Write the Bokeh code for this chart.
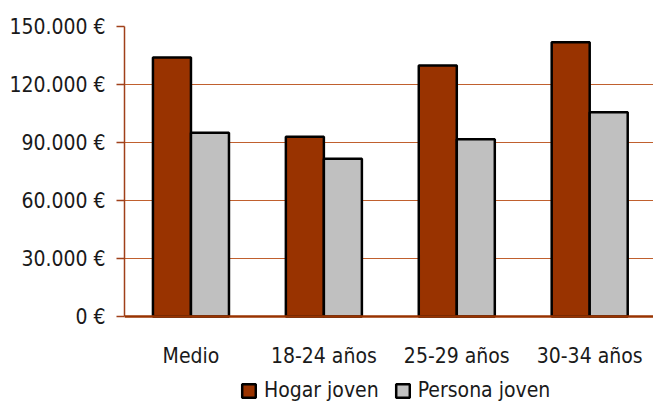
from bokeh.plotting import figure
from bokeh.models import (Range1d, FixedTicker, Legend, LegendItem, ColumnDataSource,
                          LabelSet, Span)
from bokeh.core.properties import value
from bokeh.embed import file_html
from bokeh.resources import INLINE

categories = ["Medio", "18-24 años", "25-29 años", "30-34 años"]
hogar_joven = [134000, 93000, 129800, 141900]
persona_joven = [95000, 81600, 91700, 105700]
y_ticks = [0, 30000, 60000, 90000, 120000, 150000]
y_tick_labels = ["0 €", "30.000 €", "60.000 €", "90.000 €", "120.000 €", "150.000 €"]

FONT = "DejaVu Sans Condensed"
FS = "21px"
TXT = "#1a1a1a"
BAR_W = 0.286
idx = [i + 0.5 for i in range(len(categories))]

src = ColumnDataSource(dict(
    xh=[c - BAR_W / 2 for c in idx],
    xp=[c + BAR_W / 2 for c in idx],
    h=hogar_joven,
    pj=persona_joven,
))
cat_src = ColumnDataSource(dict(x=idx, y=[0] * len(idx), text=categories))

p = figure(width=653, height=403, output_backend="svg", toolbar_location=None,
           x_range=Range1d(0, 3.98), y_range=Range1d(-45000, 150000),
           x_axis_location=None,
           min_border_left=124, min_border_top=26, min_border_right=0, min_border_bottom=0)
p.outline_line_color = None
p.background_fill_color = "white"
p.border_fill_color = "white"

p.xgrid.grid_line_color = None
p.ygrid.ticker = FixedTicker(ticks=y_ticks[1:])
p.ygrid.grid_line_color = "#C0602E"
p.ygrid.grid_line_width = 1

rh = p.vbar(x="xh", top="h", bottom=0, width=BAR_W, source=src, fill_color="#993300",
            line_color="black", line_width=2.5)
rp = p.vbar(x="xp", top="pj", bottom=0, width=BAR_W, source=src, fill_color="#C0C0C0",
            line_color="black", line_width=2.5)

# category axis line at zero
p.add_layout(Span(location=0, dimension="width", line_color="#993300", line_width=2.5))

# category labels
p.add_layout(LabelSet(x="x", y="y", text="text", source=cat_src, y_offset=-39,
                      text_align="center", text_baseline="middle",
                      text_font=value(FONT), text_font_size=value(FS),
                      text_color=value(TXT)))

# y axis
yax = p.yaxis[0]
yax.ticker = FixedTicker(ticks=y_ticks)
yax.bounds = (0, 150000)
yax.major_label_overrides = {t: l for t, l in zip(y_ticks, y_tick_labels)}
yax.axis_line_color = "#A0401A"
yax.axis_line_width = 1.5
yax.major_tick_line_color = "#A0401A"
yax.major_tick_line_width = 1.5
yax.major_tick_out = 8
yax.major_tick_in = 0
yax.minor_tick_line_color = None
yax.major_label_text_font = FONT
yax.major_label_text_font_size = FS
yax.major_label_text_color = TXT
yax.major_label_standoff = 11

legend = Legend(items=[LegendItem(label="Hogar joven", renderers=[rh]),
                       LegendItem(label="Persona joven", renderers=[rp])],
                orientation="horizontal", location=(116, 1),
                border_line_color=None, background_fill_alpha=0,
                label_text_font=FONT, label_text_font_size=FS, label_text_color=TXT,
                glyph_width=17, glyph_height=17, label_standoff=7, spacing=15,
                padding=0, margin=0, label_height=18)
p.add_layout(legend, "center")

open("out.html", "w").write(file_html(p, INLINE))
